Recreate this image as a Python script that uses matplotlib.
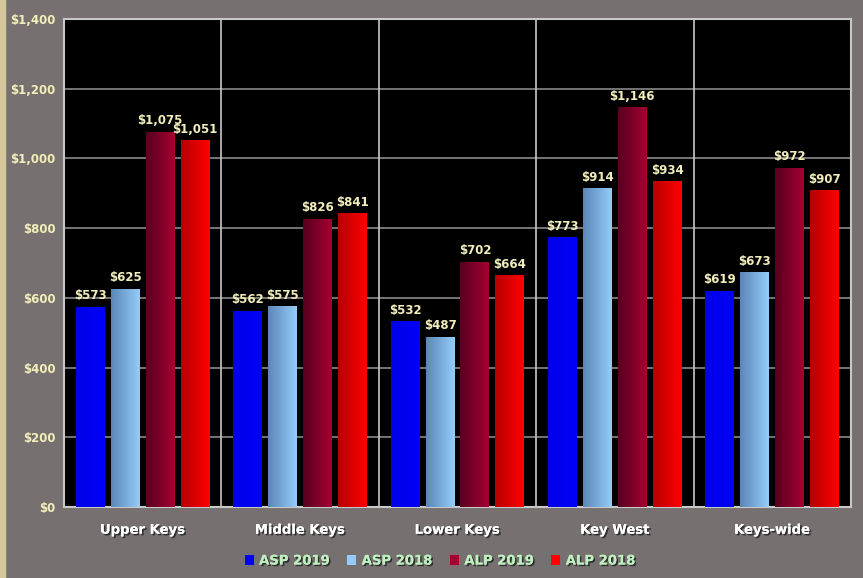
import matplotlib.pyplot as plt
import matplotlib.patheffects as pe
from matplotlib.colors import LinearSegmentedColormap
from matplotlib.patches import Rectangle, Patch
import numpy as np

# datos
regiones = ["Upper Keys", "Middle Keys", "Lower Keys", "Key West", "Keys-wide"]
series = ["ASP 2019", "ASP 2018", "ALP 2019", "ALP 2018"]
asp_2019 = [573, 562, 532, 773, 619]
asp_2018 = [625, 575, 487, 914, 673]
alp_2019 = [1075, 826, 702, 1146, 972]
alp_2018 = [1051, 841, 664, 934, 907]
valores = [asp_2019, asp_2018, alp_2019, alp_2018]

# degradado horizontal de cada serie (izquierda -> derecha)
degradados = [("#0000e8", "#0000f8"),
              ("#5b87b8", "#94ccf8"),
              ("#580020", "#a50032"),
              ("#b80000", "#ff0000")]

fondo = "#767170"
texto_val = "#f2eebb"
texto_ley = "#bff0c0"

fig = plt.figure(figsize=(8.63, 5.78), dpi=100, facecolor=fondo)
ax = fig.add_axes([64 / 863, 1 - 507 / 578, 787 / 863, 488 / 578])
ax.set_facecolor("black")

# franja lateral
fig.patches.append(Rectangle((0, 0), 5 / 863, 1, transform=fig.transFigure,
                             color="#d5c69c", zorder=0))

n = len(regiones)
ancho = 0.184
paso = 0.222
x = np.arange(n)

grad = np.linspace(0, 1, 64).reshape(1, -1)
shadow = [pe.withSimplePatchShadow(offset=(1.2, -1.2), shadow_rgbFace="#202020", alpha=0.8), pe.Normal()]

handles = []
for i, (nombre, vals) in enumerate(zip(series, valores)):
    cmap = LinearSegmentedColormap.from_list(nombre, degradados[i])
    pos = x + (i - 1.5) * paso
    for xp, v in zip(pos, vals):
        ax.imshow(grad, cmap=cmap, aspect="auto", zorder=3,
                  extent=(xp - ancho / 2, xp + ancho / 2, 0, v))
        ax.text(xp, v + 14, f"${v:,}", ha="center", va="bottom",
                color=texto_val, fontsize=8.5, fontweight="bold", zorder=5)
    handles.append(Patch(facecolor=degradados[i][1], edgecolor="none", label=nombre))

ax.set_xlim(-0.5, n - 0.5)
ax.set_ylim(0, 1400)

# rejilla
ax.set_yticks(np.arange(0, 1401, 200))
ax.set_yticklabels([f"${v:,}" for v in range(0, 1401, 200)])
ax.yaxis.grid(True, color="#8a8a8a", linewidth=1.2, zorder=1)
for b in np.arange(0.5, n - 0.5, 1):
    ax.axvline(b, color="#c8c8c8", linewidth=1.2, zorder=1)
ax.set_axisbelow(True)

ax.set_xticks(x)
ax.set_xticklabels(regiones)
ax.tick_params(axis="x", length=0, pad=12, colors="white", labelsize=9.5)
ax.tick_params(axis="y", length=0, pad=6, colors=texto_val, labelsize=8.5)
for t in ax.get_xticklabels():
    t.set_fontweight("bold")
    t.set_path_effects(shadow)
for t in ax.get_yticklabels():
    t.set_fontweight("bold")

for s in ax.spines.values():
    s.set_color("#c8c8c8")
    s.set_linewidth(1.5)

ley = fig.legend(handles=handles, loc="center", bbox_to_anchor=(0.51, 1 - 561 / 578),
                 ncol=4, frameon=False, handlelength=0.7, handleheight=0.7,
                 handletextpad=0.4, columnspacing=1.3,
                 prop={"weight": "bold", "size": 9.5})
for t in ley.get_texts():
    t.set_color(texto_ley)
    t.set_path_effects(shadow)

plt.savefig("out.png", dpi=100, facecolor=fondo)
